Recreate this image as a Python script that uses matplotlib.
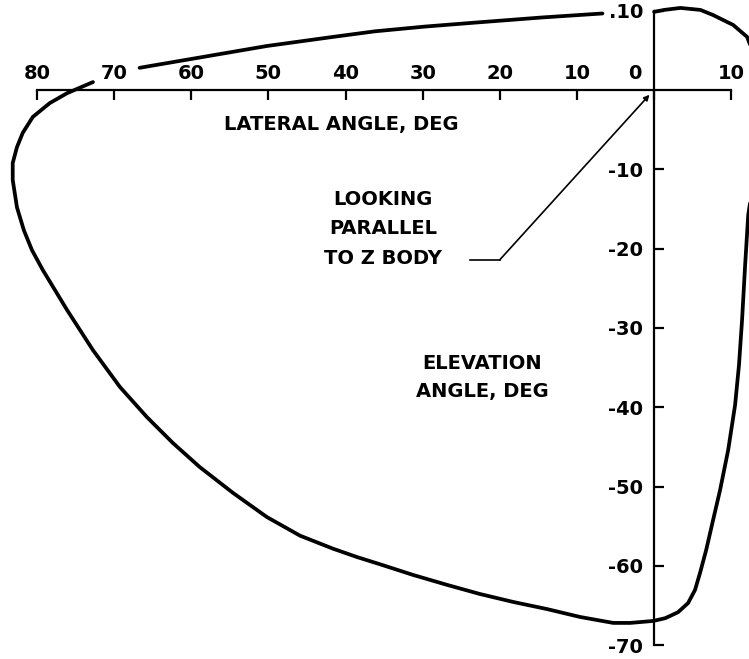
import numpy as np
import matplotlib
matplotlib.use("Agg")
import matplotlib.pyplot as plt
from matplotlib.transforms import ScaledTranslation

# lateral angle (deg, positive to the left) / elevation angle (deg)
lat_ticks = [80, 70, 60, 50, 40, 30, 20, 10, 0, -10]
lat_labels = ["80", "70", "60", "50", "40", "30", "20", "10", "0", "10"]
elev_ticks = [10, -10, -20, -30, -40, -50, -60, -70]
elev_labels = [".10", "-10", "-20", "-30", "-40", "-50", "-60", "-70"]

# upper edge of the window outline (between the "70" and ".10" labels)
top_lat = [66.7, 58.9, 50.2, 41.6, 36.2, 29.7, 23.2, 14.5, 6.7]
top_elev = [2.8, 4.1, 5.55, 6.7, 7.4, 8.0, 8.5, 9.15, 9.65]

# rest of the outline, clockwise from the top of the vertical axis
rim_lat = [0.0, -1.3, -3.4, -6.0, -7.65, -10.25, -12.05, -13.2, -13.6, -13.35,
           -12.7, -12.2, -11.8, -11.4, -11.0, -10.5, -9.6, -8.55, -7.65, -6.75,
           -5.95, -5.3, -4.4, -3.1, -1.45, 0.1, 3.1, 5.3, 9.6, 13.9,
           18.3, 22.6, 26.85, 31.25, 35.55, 38.5, 41.6, 45.9, 50.2, 54.6, 58.9,
           62.4, 65.75, 69.25, 72.75, 76.1, 79.25, 80.65, 81.7, 82.6, 83.15, 83.15,
           82.6, 81.85, 80.55, 78.35, 76.1, 72.75]
rim_elev = [9.85, 10.1, 10.35, 10.1, 9.45, 8.2, 6.7, 3.8, -1.25, -7.55,
            -12.6, -15.75, -22.05, -29.0, -34.7, -39.7, -45.4, -50.45, -54.2, -58.0,
            -60.9, -63.05, -64.7, -65.85, -66.6, -66.95, -67.2, -67.2, -66.45, -65.45,
            -64.55, -63.55, -62.4, -61.15, -59.8, -58.9, -57.85, -56.2, -53.85, -50.8, -47.55,
            -44.5, -41.25, -37.45, -32.8, -27.75, -22.7, -20.2, -17.7, -14.8, -11.35, -9.2,
            -7.2, -5.4, -3.4, -1.65, -0.4, 1.0]

# leader line for the "looking parallel to Z body" note
leader_lat = [23.9, 20.0, 0.6]
leader_elev = [-21.4, -21.4, -0.6]

fig = plt.figure(figsize=(7.49, 6.59), dpi=100)
ax = fig.add_axes([0, 0, 1, 1])
ax.set_xlim(84.8, -12.3)
ax.set_ylim(-71.75, 11.35)

font = dict(family="DejaVu Sans", weight="bold", size=14)

line_kw = dict(color="black", lw=2.7, solid_capstyle="round", solid_joinstyle="round")
ax.plot(top_lat, top_elev, **line_kw)
ax.plot(rim_lat, rim_elev, **line_kw)

# axes drawn through the origin
for side in ["right", "bottom"]:
    ax.spines[side].set_visible(False)
ax.spines["top"].set_position(("data", 0))
ax.spines["top"].set_bounds(lat_ticks[-1], lat_ticks[0])
ax.spines["left"].set_position(("data", 0))
ax.spines["left"].set_bounds(elev_ticks[-1], elev_ticks[0])
for side in ["top", "left"]:
    ax.spines[side].set_linewidth(1.6)

ax.xaxis.set_ticks_position("top")
ax.set_xticks(lat_ticks)
ax.set_xticklabels(lat_labels, fontdict=font)
ax.tick_params(axis="x", direction="in", length=7, width=1.6, pad=5,
               top=True, bottom=False, labeltop=True, labelbottom=False)

ax.yaxis.set_ticks_position("left")
ax.set_yticks(elev_ticks)
ax.set_yticklabels(elev_labels, fontdict=font)
ax.tick_params(axis="y", direction="in", length=7, width=1.6, pad=8)

# nudge the "0" label off the vertical axis
shift = ScaledTranslation(-14 / 72, 0, fig.dpi_scale_trans)
zero_tick = ax.xaxis.get_major_ticks()[lat_ticks.index(0)]
zero_tick.label2.set_transform(zero_tick.label2.get_transform() + shift)

ax.text(40.5, -4.3, "LATERAL ANGLE, DEG", ha="center", va="center", fontdict=font)
ax.text(35.1, -17.5, "LOOKING\nPARALLEL\nTO Z BODY", ha="center", va="center",
        linespacing=1.7, fontdict=font)
ax.text(22.3, -36.3, "ELEVATION\nANGLE, DEG", ha="center", va="center",
        linespacing=1.6, fontdict=font)

ax.plot(leader_lat[:2], leader_elev[:2], color="black", lw=1.2)
ax.annotate("", xy=(leader_lat[2], leader_elev[2]), xytext=(leader_lat[1], leader_elev[1]),
            arrowprops=dict(arrowstyle="-|>", color="black", lw=1.2,
                            mutation_scale=8, shrinkA=0, shrinkB=0))

fig.savefig("out.png", dpi=100)
